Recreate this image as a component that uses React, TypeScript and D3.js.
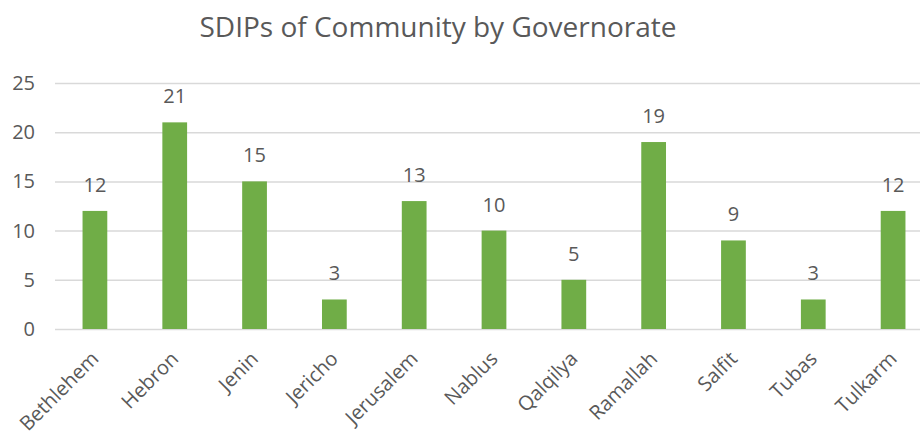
import React, { useEffect, useRef } from "react";
import * as d3 from "d3";

const categories = ["Bethlehem", "Hebron", "Jenin", "Jericho", "Jerusalem", "Nablus", "Qalqilya", "Ramallah", "Salfit", "Tubas", "Tulkarm"];
const values = [12, 21, 15, 3, 13, 10, 5, 19, 9, 3, 12];
const yTicks = [0, 5, 10, 15, 20, 25];
const title = "SDIPs of Community by Governorate";

const W = 920;
const H = 436;
const FONT = "'Open Sans', sans-serif";
const TEXT = "#595959";

export default function App() {
  const ref = useRef<SVGSVGElement>(null);
  useEffect(() => {
    const svg = d3.select(ref.current);
    svg.selectAll("*").remove();
    const left = 55, right = 933, top = 83, bottom = 329;
    const x = d3.scaleBand<string>().domain(categories).range([left, right]).paddingInner(0.69).paddingOuter(0.345);
    const y = d3.scaleLinear().domain([0, 25]).range([bottom, top]);

    svg.append("text").attr("x", 438).attr("y", 37).attr("text-anchor", "middle")
      .attr("font-family", FONT).attr("font-size", 28).attr("fill", TEXT).text(title);

    const yAxis = d3.axisLeft(y).tickValues(yTicks).tickSize(-(W - left)).tickPadding(20);
    const g = svg.append("g").attr("transform", `translate(${left},0)`).call(yAxis);
    g.select(".domain").remove();
    g.selectAll(".tick line").attr("stroke", "#D9D9D9").attr("stroke-width", 1.5);
    g.selectAll(".tick text").attr("font-family", FONT).attr("font-size", 20).attr("fill", TEXT);

    svg.append("g").selectAll("rect").data(values).join("rect")
      .attr("x", (_, i) => x(categories[i])!)
      .attr("width", x.bandwidth())
      .attr("y", d => y(d))
      .attr("height", d => y(0) - y(d))
      .attr("fill", "#70AD47");

    svg.append("g").selectAll("text").data(values).join("text")
      .attr("x", (_, i) => x(categories[i])! + x.bandwidth() / 2)
      .attr("y", d => y(d) - 19)
      .attr("text-anchor", "middle")
      .attr("font-family", FONT).attr("font-size", 20).attr("fill", TEXT)
      .text(d => d);

    svg.append("g").selectAll("text").data(categories).join("text")
      .attr("transform", c => `translate(${x(c)! + x.bandwidth() / 2 + 5},360) rotate(-45)`)
      .attr("text-anchor", "end")
      .attr("font-family", FONT).attr("font-size", 20).attr("fill", TEXT)
      .text(c => c);
  }, []);
  return <svg ref={ref} width={W} height={H} style={{ position: "absolute", left: 0, top: 0, background: "#fff" }} />;
}
